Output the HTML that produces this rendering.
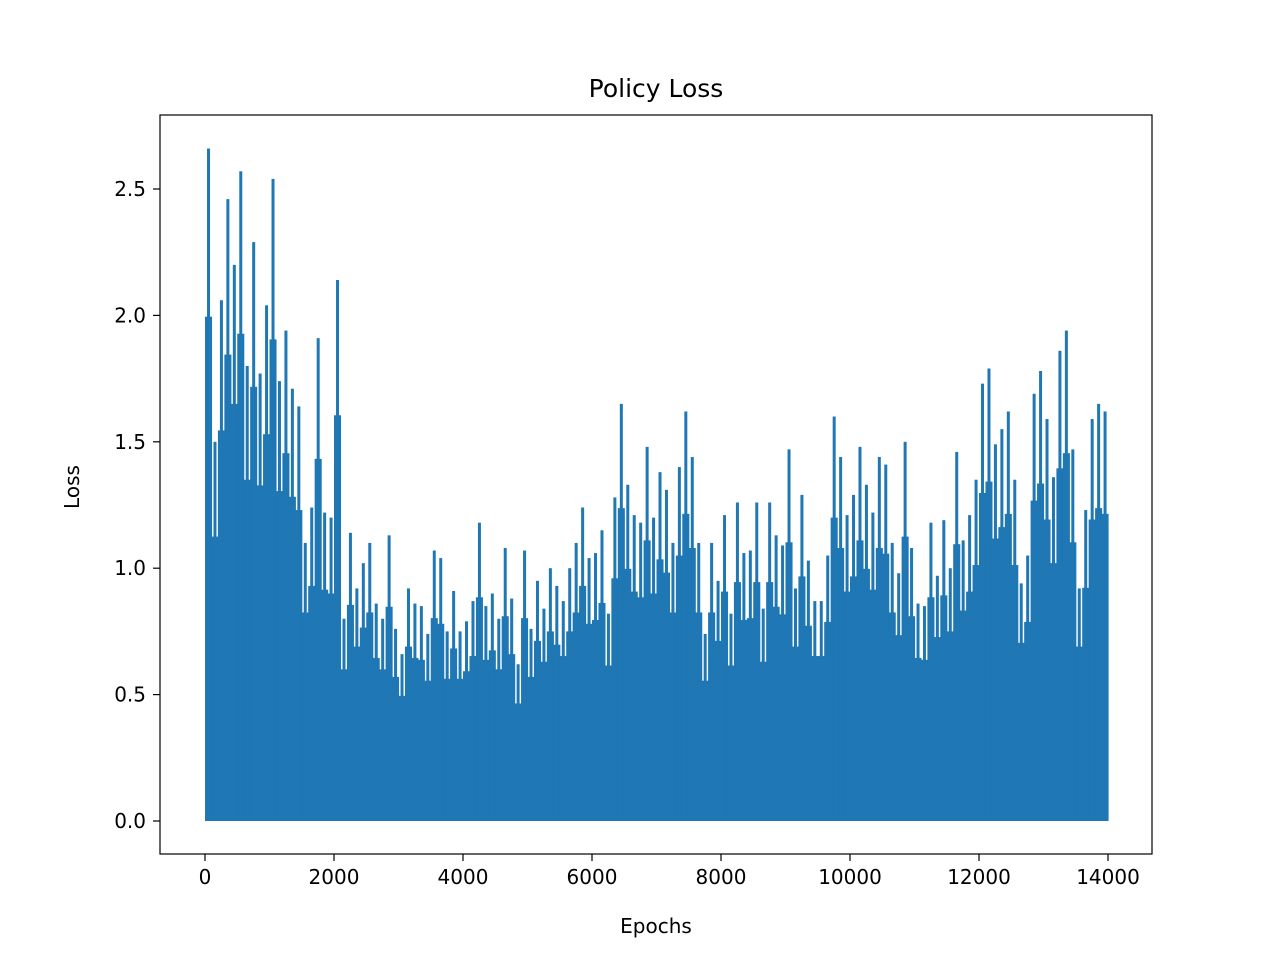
<!DOCTYPE html>
<html><head><meta charset="utf-8"><style>
body{margin:0;background:#fff;}
svg text{font-family:"DejaVu Sans","Liberation Sans",sans-serif;fill:#000;}
</style></head><body>
<svg id="chart" width="1280" height="960" xmlns="http://www.w3.org/2000/svg">
<rect x="0" y="0" width="1280" height="960" fill="#fff"/>
<g id="marks"></g>
<rect x="160" y="115" width="992" height="739" fill="none" stroke="#000" stroke-width="1.2"/>
<g id="xticks"></g>
<g id="yticks"></g>
<text x="656" y="97" font-size="25" text-anchor="middle">Policy Loss</text>
<text x="656" y="933" font-size="20" text-anchor="middle">Epochs</text>
<text x="79" y="487" font-size="20" text-anchor="middle" transform="rotate(-90 79 487)">Loss</text>
</svg>
<script>
const bucketSize = 100;
const peaks = [2.66,1.5,2.06,2.46,2.2,2.57,1.8,2.29,1.77,2.04,2.54,1.74,1.94,1.71,1.64,1.1,1.24,1.91,1.22,1.2,
2.14,0.8,1.14,0.92,1.02,1.1,0.86,0.8,1.13,0.76,0.66,0.92,0.86,0.85,0.74,1.07,1.04,0.75,0.91,0.75,
0.79,0.87,1.18,0.85,0.9,0.8,1.08,0.88,0.62,1.07,0.76,0.95,0.84,1.0,0.93,0.87,1.0,1.1,1.24,1.04,
1.06,1.15,0.82,1.28,1.65,1.33,1.21,1.18,1.48,1.2,1.38,1.31,1.1,1.4,1.62,1.44,1.1,0.74,1.1,0.95,
1.21,0.82,1.26,1.06,1.07,1.26,0.84,1.26,1.13,1.09,1.47,0.92,1.29,1.03,0.87,0.87,1.05,1.6,1.44,1.21,
1.29,1.48,1.33,1.22,1.44,1.41,1.1,0.98,1.5,1.08,0.86,0.85,1.18,0.97,1.19,1.0,1.46,1.11,1.21,1.35,
1.73,1.79,1.49,1.55,1.62,1.35,0.94,1.05,1.69,1.78,1.59,1.36,1.86,1.94,1.47,0.92,1.23,1.59,1.65,1.62,1.17];
const xTicks = [0,2000,4000,6000,8000,10000,12000,14000];
const yTicks = [0.0,0.5,1.0,1.5,2.0,2.5];
const yTickLabels = ["0.0","0.5","1.0","1.5","2.0","2.5"];

const NS = "http://www.w3.org/2000/svg";
function xs(e){ return 205 + e*(903/14000); }
function ys(v){ return 821 - v*252.8; }
const marks = document.getElementById('marks');
function mk(tag, attrs, parent){
  const el = document.createElementNS(NS, tag);
  for (const k in attrs) el.setAttribute(k, attrs[k]);
  parent.appendChild(el); return el;
}
const bw = xs(bucketSize) - xs(0);
peaks.forEach((p,i)=>{
  const e0 = Math.min(i*bucketSize, 14000 - bucketSize*0.5);
  const x0 = xs(e0);
  const w = (i === peaks.length-1) ? 2.5 : bw + 0.6;
  const base = mk('rect', {x:x0, y:ys(p*0.75), width:w, height:ys(0)-ys(p*0.75), fill:'#1f77b4'}, marks);
  
  
  const spike = mk('rect', {x:x0 + Math.max(0,(w-3)/2), y:ys(p), width:3, height:ys(0)-ys(p), fill:'#1f77b4'}, marks);
  
  
});
const xg = document.getElementById('xticks');
xTicks.forEach(t=>{
  const x = xs(t);
  const l = mk('line', {x1:x, x2:x, y1:854, y2:861, stroke:'#000', 'stroke-width':1.2}, xg);
  
  
  const tx = mk('text', {x:x, y:884, 'font-size':20, 'text-anchor':'middle'}, xg);
  tx.textContent = String(t);
  
  
});
const yg = document.getElementById('yticks');
yTicks.forEach((t,i)=>{
  const y = ys(t);
  const l = mk('line', {x1:153, x2:160, y1:y, y2:y, stroke:'#000', 'stroke-width':1.2}, yg);
  
  
  const tx = mk('text', {x:146, y:y+7, 'font-size':20, 'text-anchor':'end'}, yg);
  tx.textContent = yTickLabels[i];
  
  
});
</script>
</body></html>
